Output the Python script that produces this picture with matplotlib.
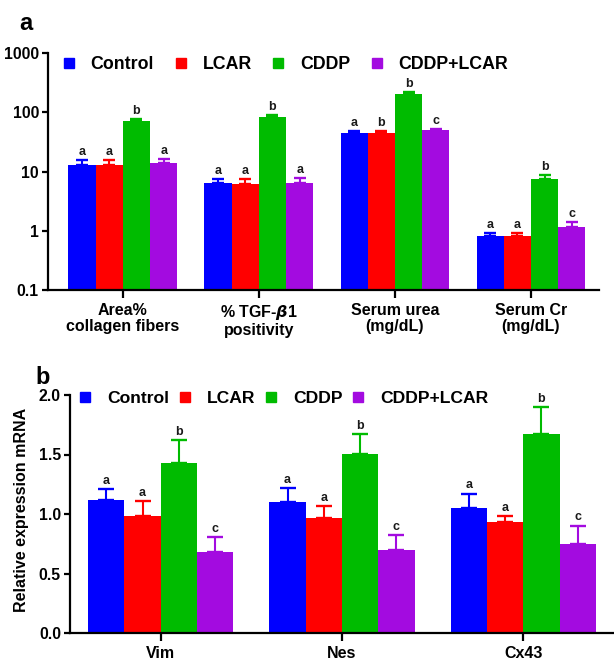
import matplotlib
matplotlib.use("Agg")
import matplotlib.pyplot as plt
from matplotlib.lines import Line2D
import numpy as np

plt.rcParams['font.family'] = ['Liberation Sans', 'DejaVu Sans']
plt.rcParams['font.weight'] = 'bold'
plt.rcParams['mathtext.default'] = 'bf'

groups = ["Control", "LCAR", "CDDP", "CDDP+LCAR"]
colors = ["#0000FF", "#FF0000", "#00BB00", "#A30BE0"]

# Panel a (log scale)
cats_a = ["Area%\ncollagen fibers", "% TGF-$\\mathit{\\beta}$1\npositivity",
          "Serum urea\n(mg/dL)", "Serum Cr\n(mg/dL)"]
control_a = [13.1, 6.4, 44.7, 0.80]
lcar_a = [12.8, 6.1, 44.7, 0.80]
cddp_a = [70.0, 82.6, 202.0, 7.45]
combo_a = [14.1, 6.4, 49.5, 1.15]
control_a_err = [2.6, 1.15, 4.1, 0.13]
lcar_a_err = [2.7, 1.3, 3.8, 0.13]
cddp_a_err = [6.0, 6.4, 16.0, 1.25]
combo_a_err = [2.4, 1.3, 3.5, 0.24]
letters_a = [["a", "a", "b", "a"], ["a", "a", "b", "a"],
             ["a", "b", "b", "c"], ["a", "a", "b", "c"]]
yticks_a = [0.1, 1, 10, 100, 1000]
yticklabels_a = ["0.1", "1", "10", "100", "1000"]

# Panel b (linear)
cats_b = ["Vim", "Nes", "Cx43"]
control_b = [1.12, 1.10, 1.052]
lcar_b = [0.98, 0.968, 0.93]
cddp_b = [1.43, 1.503, 1.675]
combo_b = [0.68, 0.70, 0.75]
control_b_err = [0.086, 0.115, 0.12]
lcar_b_err = [0.13, 0.098, 0.055]
cddp_b_err = [0.19, 0.172, 0.222]
combo_b_err = [0.13, 0.125, 0.153]
letters_b = [["a", "a", "b", "c"], ["a", "a", "b", "c"], ["a", "a", "b", "c"]]
yticks_b = [0.0, 0.5, 1.0, 1.5, 2.0]
yticklabels_b = ["0.0", "0.5", "1.0", "1.5", "2.0"]

W, H = 614, 660
fig = plt.figure(figsize=(W / 100, H / 100), dpi=100)


def px_axes(l, t, r, b):
    return fig.add_axes([l / W, 1 - b / H, (r - l) / W, (b - t) / H])


def draw_panel(ax, cats, series, errs, letters, capsize, width=0.2):
    x = np.arange(len(cats))
    offs = (np.arange(4) - 1.5) * width
    for i in range(4):
        xs = x + offs[i]
        ax.bar(xs, series[i], width=width, color=colors[i], zorder=2)
        ax.errorbar(xs, series[i], yerr=[np.zeros(len(cats)), errs[i]], fmt='none',
                    ecolor=colors[i], elinewidth=1.5, capsize=capsize, capthick=1.7, zorder=1)
        for j in range(len(cats)):
            top = series[i][j] + errs[i][j]
            ax.annotate(letters[j][i], (xs[j], top), xytext=(0, 1.5),
                        textcoords='offset points', ha='center', va='bottom',
                        fontsize=9, fontweight='bold', color='#1a1a1a')
    ax.set_xticks(x)
    ax.set_xticklabels(cats, fontsize=11.5, fontweight='bold', linespacing=1.1)
    for s in ['top', 'right']:
        ax.spines[s].set_visible(False)
    for s in ['left', 'bottom']:
        ax.spines[s].set_linewidth(1.6)
    ax.tick_params(axis='x', length=5.5, width=1.6, pad=4)
    ax.tick_params(axis='y', length=4.5, width=1.6, labelsize=11.3, pad=2)


# Panel a
ax1 = px_axes(48, 53, 599, 290)
draw_panel(ax1, cats_a, [control_a, lcar_a, cddp_a, combo_a],
           [control_a_err, lcar_a_err, cddp_a_err, combo_a_err], letters_a, capsize=4.5)
ax1.set_yscale('log')
ax1.set_ylim(0.1, 1000)
ax1.set_xlim(-0.55, 3.5)
ax1.set_yticks(yticks_a)
ax1.set_yticklabels(yticklabels_a, fontweight='bold')
ax1.yaxis.set_minor_locator(matplotlib.ticker.NullLocator())

handles = [Line2D([], [], marker='s', linestyle='none', markersize=7.5,
                  markerfacecolor=c, markeredgecolor=c) for c in colors]
ax1.legend(handles, groups, loc='center left', bbox_to_anchor=(0.022, 0.95),
           ncol=4, frameon=False, borderpad=0, borderaxespad=0,
           handlelength=1.0, handletextpad=0.72, columnspacing=1.0,
           prop={'size': 12.8, 'weight': 'bold'})

# Panel b
ax2 = px_axes(70, 395, 614, 633)
draw_panel(ax2, cats_b, [control_b, lcar_b, cddp_b, combo_b],
           [control_b_err, lcar_b_err, cddp_b_err, combo_b_err], letters_b, capsize=6)
ax2.set_ylim(0, 2.0)
ax2.set_xlim(-0.5, 2.5)
ax2.set_yticks(yticks_b)
ax2.set_yticklabels(yticklabels_b, fontweight='bold')

handles_b = [Line2D([], [], marker='s', linestyle='none', markersize=6.8,
                    markerfacecolor=c, markeredgecolor=c) for c in colors]
ax2.legend(handles_b, groups, loc='center left', bbox_to_anchor=(0.012, 0.985),
           ncol=4, frameon=False, borderpad=0, borderaxespad=0,
           handlelength=1.0, handletextpad=0.75, columnspacing=0.4,
           prop={'size': 12.6, 'weight': 'bold'})

fig.text(22 / W, 1 - 510 / H, "Relative expression mRNA", rotation=90,
         ha='center', va='center', fontsize=11.5, fontweight='bold')

fig.text(26 / W, 1 - 24 / H, "a", fontsize=17, fontweight='bold', ha='center', va='center')
fig.text(43 / W, 1 - 377 / H, "b", fontsize=17, fontweight='bold', ha='center', va='center')

fig.savefig("out.png", dpi=100)
